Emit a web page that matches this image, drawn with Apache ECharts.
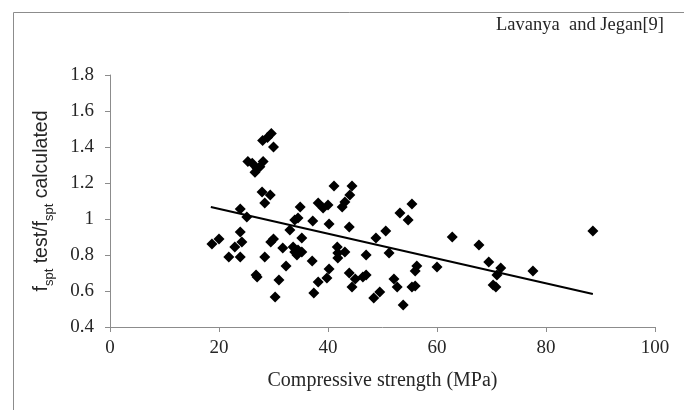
<!DOCTYPE html>
<html>
<head>
<meta charset="utf-8">
<script src="https://cdn.jsdelivr.net/npm/echarts@6/dist/echarts.min.js"></script>
<style>
html,body{margin:0;padding:0;background:#fff;}
#chart{width:684px;height:410px;}
</style>
</head>
<body>
<div id="chart"></div>
<script>
// Compressive strength (MPa)
var strength = [
  29.6, 28.9, 28.0, 30.0,
  25.3, 26.1, 27.0, 28.1, 27.5, 26.6,
  27.9, 29.4, 28.4, 23.9, 25.1,
  23.9, 20.0, 18.7, 22.9, 24.2, 29.5, 30.0, 28.4, 21.8, 23.9,
  26.8, 27.0, 31.0, 30.3,
  31.7, 33.6, 33.9, 34.5, 35.2, 34.3, 32.3, 33.0, 33.9, 34.5, 34.9, 35.2,
  37.2, 40.2, 43.9, 38.2, 39.1, 40.0, 42.6, 43.1, 44.0, 41.1, 44.4,
  37.1, 41.7, 41.8, 43.1, 41.8, 47.0, 40.2, 39.8, 38.2, 37.4,
  43.9, 45.0, 44.4, 46.4, 47.0,
  48.8, 50.6, 53.2, 55.4, 54.7, 51.2, 56.3, 56.0, 60.0,
  52.1, 52.7, 49.5, 48.4, 53.8, 55.4, 56.0,
  62.8, 67.7, 69.5, 71.7, 71.0, 70.3, 70.8, 77.6, 88.6
];
// f_spt test / f_spt calculated
var ratio = [
  1.475, 1.453, 1.436, 1.40,
  1.32, 1.31, 1.28, 1.32, 1.29, 1.26,
  1.15, 1.133, 1.089, 1.056, 1.011,
  0.928, 0.889, 0.861, 0.844, 0.872, 0.872, 0.889, 0.789, 0.789, 0.789,
  0.689, 0.678, 0.661, 0.567,
  0.839, 0.844, 0.817, 0.828, 0.817, 0.80, 0.739, 0.939, 0.994, 1.006, 1.067, 0.894,
  0.989, 0.972, 0.956, 1.089, 1.061, 1.078, 1.067, 1.094, 1.133, 1.183, 1.183,
  0.767, 0.844, 0.811, 0.817, 0.783, 0.80, 0.722, 0.672, 0.65, 0.589,
  0.70, 0.667, 0.622, 0.678, 0.689,
  0.894, 0.933, 1.033, 1.083, 0.994, 0.811, 0.739, 0.711, 0.733,
  0.667, 0.622, 0.594, 0.561, 0.522, 0.622, 0.628,
  0.90, 0.856, 0.761, 0.728, 0.689, 0.633, 0.622, 0.711, 0.933
];
// Linear trend line end points
var trendX = [18.5, 88.6];
var trendY = [1.067, 0.583];
// Axis ticks
var xTicks = [0, 20, 40, 60, 80, 100];
var yTicks = [0.4, 0.6, 0.8, 1.0, 1.2, 1.4, 1.6, 1.8];

var points = strength.map(function (x, i) { return [x, ratio[i]]; });
var trend = trendX.map(function (x, i) { return [x, trendY[i]]; });

var serif = 'Liberation Serif';
var sans = 'Liberation Sans';
var txt = '#262626';
var axisCol = '#8c8c8c';

var chart = echarts.init(document.getElementById('chart'), null, {renderer: 'canvas'});
chart.setOption({
  animation: false,
  backgroundColor: '#fff',
  title: {
    text: 'Lavanya  and Jegan[9]',
    right: 15,
    top: 11,
    textStyle: {fontFamily: serif, fontSize: 18.5, fontWeight: 'normal', color: txt}
  },
  graphic: [{
    type: 'rect',
    left: 11, top: 10,
    shape: {width: 700, height: 420},
    style: {fill: 'none', stroke: '#8c8c8c', lineWidth: 1},
    silent: true
  }],
  grid: {left: 110, right: 29, top: 75, bottom: 83, containLabel: false},
  xAxis: {
    type: 'value',
    min: xTicks[0], max: xTicks[xTicks.length - 1], interval: 20,
    name: 'Compressive strength (MPa)',
    nameLocation: 'middle',
    nameGap: 44,
    nameTextStyle: {fontFamily: serif, fontSize: 20, color: txt},
    axisLine: {show: true, lineStyle: {color: axisCol, width: 1}},
    axisTick: {show: true, length: 5, lineStyle: {color: axisCol}},
    axisLabel: {fontFamily: serif, fontSize: 19, color: txt, margin: 12},
    splitLine: {show: false}
  },
  yAxis: {
    type: 'value',
    min: yTicks[0], max: yTicks[yTicks.length - 1], interval: 0.2,
    name: '{n|f}{s|spt}{n| test/f}{s|spt}{n| calculated}',
    nameLocation: 'middle',
    nameGap: 58,
    nameRotate: 90,
    nameTextStyle: {
      rich: {
        n: {fontFamily: sans, fontSize: 19.5, color: txt, verticalAlign: 'bottom', lineHeight: 22},
        s: {fontFamily: sans, fontSize: 13, color: txt, verticalAlign: 'bottom', lineHeight: 16, padding: [0, 0, -4, 0]}
      }
    },
    axisLine: {show: true, onZero: false, lineStyle: {color: axisCol, width: 1}},
    axisTick: {show: true, length: 5, lineStyle: {color: axisCol}},
    axisLabel: {
      fontFamily: serif, fontSize: 19, color: txt, margin: 16,
      formatter: function (v) { return String(Math.round(v * 10) / 10); }
    },
    splitLine: {show: false}
  },
  series: [{
    type: 'line',
    data: trend,
    symbol: 'none',
    lineStyle: {color: '#000', width: 2},
    z: 3
  }, {
    type: 'scatter',
    data: points,
    symbol: 'diamond',
    symbolSize: 11,
    itemStyle: {color: '#000', opacity: 1},
    z: 2
  }]
});
</script>
</body>
</html>
